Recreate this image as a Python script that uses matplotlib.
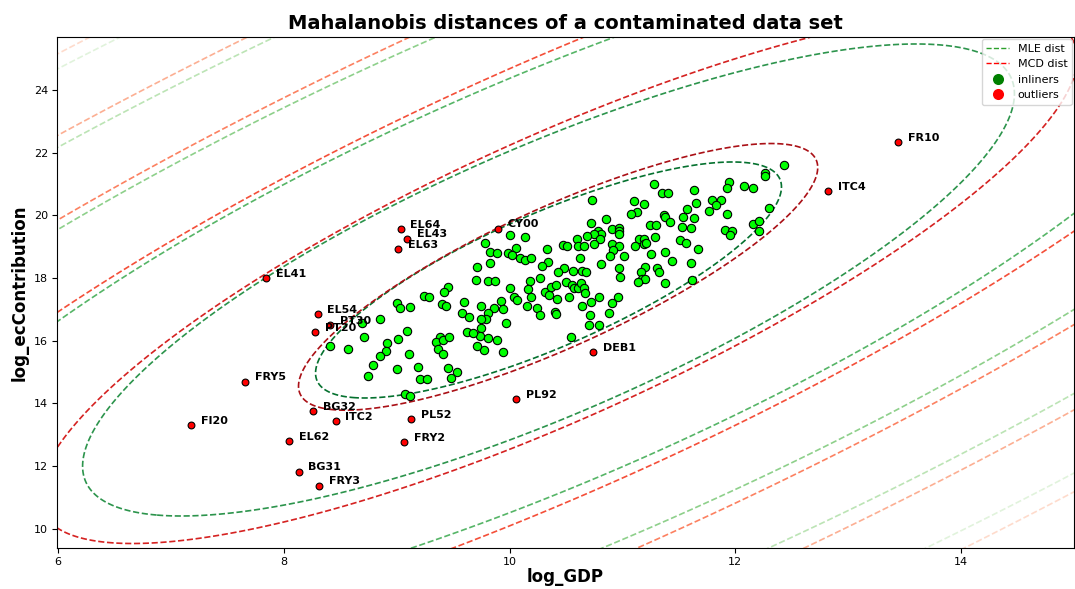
import numpy as np
import matplotlib
matplotlib.use("Agg")
import matplotlib.pyplot as plt
from matplotlib.colors import Normalize
from matplotlib.lines import Line2D

# inlier observations (log_GDP, log_ecContribution)
inliers = [
    (12.43, 21.60), (12.26, 21.34), (12.26, 21.26), (11.94, 21.06), (11.93, 20.88), (12.08, 20.93),
    (12.16, 20.89), (11.28, 21.00), (11.63, 20.80), (11.35, 20.70), (11.40, 20.71), (10.73, 20.49),
    (11.10, 20.46), (11.19, 20.37), (11.79, 20.49), (11.87, 20.49), (11.83, 20.32), (11.65, 20.40),
    (12.30, 20.24), (11.13, 20.11), (11.08, 20.03), (11.57, 20.19), (11.77, 20.13), (11.93, 20.05),
    (11.37, 20.02), (11.38, 19.96), (11.42, 19.80), (11.54, 19.95), (11.63, 19.93), (10.85, 19.87),
    (10.72, 19.75), (12.16, 19.73), (12.21, 19.82), (12.21, 19.50), (11.24, 19.68), (11.30, 19.70),
    (11.53, 19.64), (11.61, 19.61), (11.91, 19.54), (11.97, 19.51), (11.95, 19.37), (10.91, 19.57),
    (10.97, 19.59), (10.97, 19.51), (10.97, 19.40), (10.78, 19.50), (10.81, 19.42), (10.75, 19.40),
    (10.69, 19.35), (10.80, 19.25), (11.29, 19.31), (11.15, 19.26), (11.19, 19.25), (11.19, 19.10),
    (11.21, 19.11), (10.60, 19.26), (11.51, 19.20), (11.56, 19.11), (10.47, 19.07), (10.51, 19.01),
    (10.61, 19.03), (10.66, 19.04), (10.75, 19.09), (10.91, 19.10), (10.97, 19.01), (10.92, 18.91),
    (10.89, 18.69), (11.11, 19.03), (11.67, 18.94), (11.01, 18.70), (11.25, 18.77), (11.38, 18.84),
    (10.62, 18.63), (11.44, 18.53), (11.61, 18.48), (10.81, 18.46), (11.20, 18.37), (11.16, 18.21),
    (11.17, 17.98), (11.20, 17.96), (11.14, 17.86), (10.97, 18.31), (10.98, 18.05), (11.31, 18.31),
    (11.32, 18.21), (10.48, 18.31), (10.56, 18.24), (10.64, 18.23), (10.68, 18.19), (11.38, 17.83),
    (11.62, 17.93), (10.50, 17.87), (10.55, 17.78), (10.57, 17.68), (10.61, 17.69), (10.63, 17.85),
    (10.66, 17.68), (10.67, 17.51), (10.53, 17.41), (10.79, 17.41), (10.72, 17.24), (10.64, 17.11),
    (10.96, 17.40), (10.91, 17.22), (10.88, 16.90), (10.71, 16.81), (10.70, 16.50), (10.79, 16.49),
    (10.54, 16.12),
    (9.78, 19.12), (10.00, 19.37), (10.14, 19.31), (9.83, 18.84), (9.89, 18.81), (10.06, 18.95),
    (9.99, 18.81), (10.02, 18.73), (10.09, 18.64), (10.14, 18.57), (10.19, 18.64), (9.83, 18.47),
    (10.33, 18.94), (10.34, 18.52), (10.29, 18.38), (10.43, 18.20), (10.18, 17.92), (10.27, 18.01),
    (9.81, 17.90), (9.87, 17.90),
    (10.00, 17.68), (10.16, 17.66), (10.04, 17.41), (10.07, 17.30), (9.92, 17.28), (10.19, 17.39),
    (10.31, 17.55), (10.35, 17.45), (10.37, 17.71), (10.41, 17.78), (10.42, 17.33), (10.15, 17.11),
    (10.24, 17.06), (10.27, 16.82), (9.75, 17.11), (9.86, 17.06), (9.81, 16.88), (9.79, 16.70),
    (9.75, 16.69), (9.945, 17.03), (10.40, 16.93), (10.41, 16.84), (9.97, 16.56), (9.75, 16.40),
    (9.74, 16.14), (9.81, 16.08), (9.89, 16.03), (9.77, 15.71), (9.94, 15.65),
    (9.71, 18.37), (9.70, 17.94), (9.455, 17.71), (9.42, 17.55), (9.24, 17.44), (9.29, 17.39),
    (9.00, 17.22), (9.03, 17.06), (9.115, 17.08), (9.40, 17.18), (9.44, 17.10), (9.60, 17.23),
    (8.855, 16.71), (8.69, 16.56), (9.58, 16.88), (9.64, 16.75), (9.09, 16.32), (9.62, 16.28),
    (9.68, 16.24), (8.71, 16.13), (9.01, 16.05), (9.38, 16.13), (9.35, 15.95), (9.41, 16.02),
    (9.46, 16.11), (9.37, 15.74), (9.41, 15.59), (9.71, 15.85), (8.41, 15.84), (8.57, 15.74),
    (8.91, 15.92), (8.905, 15.69), (8.855, 15.50), (9.11, 15.58), (8.79, 15.24), (9.19, 15.18),
    (9.00, 15.09), (9.45, 15.13), (9.53, 15.02), (8.75, 14.89), (9.21, 14.78), (9.27, 14.78),
    (9.48, 14.80), (9.07, 14.30), (9.12, 14.23),
]

# flagged regions
outlier_names = ["FR10", "ITC4", "DEB1", "PL92", "EL64", "EL43", "EL63", "CY00", "EL41", "EL54", "PT30",
                 "PT20", "FRY5", "FI20", "BG32", "ITC2", "PL52", "EL62", "FRY2", "BG31", "FRY3"]
outlier_gdp = [13.44, 12.82, 10.74, 10.06, 9.035, 9.09, 9.01, 9.895, 7.84, 8.30, 8.41,
               8.28, 7.66, 7.18, 8.26, 8.46, 9.13, 8.05, 9.065, 8.13, 8.31]
outlier_contrib = [22.34, 20.78, 15.65, 14.15, 19.57, 19.26, 18.93, 19.58, 18.00, 16.84, 16.51,
                   16.29, 14.70, 13.30, 13.75, 13.44, 13.49, 12.81, 12.77, 11.83, 11.38]

# location / covariance estimates
mle_center = [10.345, 17.94]
mle_cov = [[4.26, 6.13], [6.13, 14.17]]
mcd_center = [10.43, 18.04]
mcd_cov = [[5.29, 8.02], [8.02, 18.09]]
dist_levels = [1, 2, 3, 4, 5, 6]


def mahalanobis(center, cov, xx, yy):
    inv = np.linalg.inv(np.array(cov))
    d = np.stack([xx - center[0], yy - center[1]], axis=-1)
    return np.sqrt(np.einsum("...i,ij,...j->...", d, inv, d))


fig = plt.figure(figsize=(10.75, 5.89), dpi=100)
ax = fig.add_axes([0.053, 0.0696, 0.946, 0.8675])

xx, yy = np.meshgrid(np.linspace(5.0, 16.0, 600), np.linspace(8.0, 27.0, 600))
norm = Normalize(0, 7)
ax.contour(xx, yy, mahalanobis(mle_center, mle_cov, xx, yy), levels=dist_levels,
           cmap="Greens_r", norm=norm, linestyles="dashed", linewidths=1.2)
ax.contour(xx, yy, mahalanobis(mcd_center, mcd_cov, xx, yy), levels=dist_levels,
           cmap="Reds_r", norm=norm, linestyles="dashed", linewidths=1.2)

gx = [p[0] for p in inliers]
gy = [p[1] for p in inliers]
ax.scatter(gx, gy, s=36, c="lime", edgecolors="black", linewidths=0.8, zorder=3)
ax.scatter(outlier_gdp, outlier_contrib, s=24, c="red", edgecolors="black", linewidths=0.8, zorder=3)
for name, x, y in zip(outlier_names, outlier_gdp, outlier_contrib):
    ax.annotate(name, (x, y), xytext=(7, 3), textcoords="offset points",
                fontsize=8, fontweight="bold", va="center", zorder=4)

ax.set_xlim(5.99, 15.0)
ax.set_ylim(9.39, 25.69)
ax.set_xticks([6, 8, 10, 12, 14])
ax.set_yticks([10, 12, 14, 16, 18, 20, 22, 24])
ax.tick_params(labelsize=8, pad=3)
ax.set_xlabel("log_GDP", fontsize=12, fontweight="bold", labelpad=1)
ax.set_ylabel("log_ecContribution", fontsize=12, fontweight="bold")
ax.set_title("Mahalanobis distances of a contaminated data set", fontsize=14, fontweight="bold")

handles = [
    Line2D([0], [0], color="#2ca02c", ls="--", lw=1),
    Line2D([0], [0], color="red", ls="--", lw=1),
    Line2D([0], [0], marker="o", color="w", markerfacecolor="green", markersize=9),
    Line2D([0], [0], marker="o", color="w", markerfacecolor="red", markersize=9),
]
ax.legend(handles, ["MLE dist", "MCD dist", "inliners", "outliers"], loc="upper right",
          fontsize=8, borderaxespad=0.2)

fig.savefig("out.png", dpi=100)
